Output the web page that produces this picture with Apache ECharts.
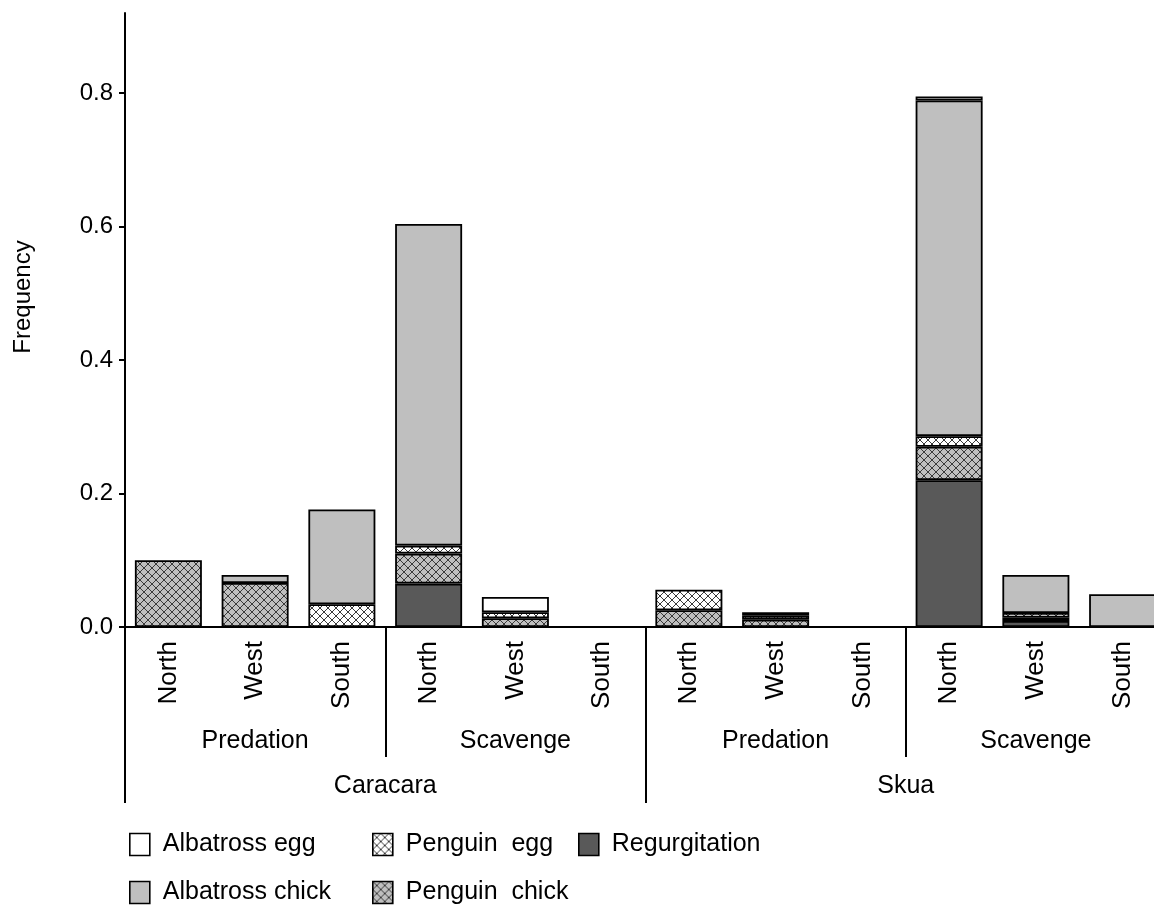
<!DOCTYPE html>
<html>
<head>
<meta charset="utf-8">
<style>
  html, body { margin: 0; padding: 0; background: #fff; }
  #chart { width: 1154px; height: 909px; }
</style>
<script src="https://cdn.jsdelivr.net/npm/echarts@6/dist/echarts.min.js"></script>
</head>
<body>
<div id="chart"></div>
<script>
// ---- data ----
const regions = ['North','West','South','North','West','South','North','West','South','North','West','South'];
const behaviours = ['Predation','Scavenge','Predation','Scavenge'];
const species = ['Caracara','Skua'];
const yTicks = [0, 0.2, 0.4, 0.6, 0.8];

const regurgitation  = [0,     0,     0,     0.065, 0,     0, 0,     0,     0, 0.220, 0.009, 0];
const penguinChick   = [0.100, 0.066, 0,     0.045, 0.013, 0, 0.025, 0.011, 0, 0.050, 0.005, 0];
const penguinEgg     = [0,     0,     0.034, 0.012, 0.009, 0, 0.031, 0.006, 0, 0.016, 0.007, 0];
const albatrossChick = [0,     0.012, 0.142, 0.482, 0,     0, 0,     0.005, 0, 0.503, 0.057, 0.049];
const albatrossEgg   = [0,     0,     0,     0,     0.023, 0, 0,     0,     0, 0.006, 0,     0];

// ---- patterns ----
function hatch(bg) {
  const c = document.createElement('canvas');
  c.width = 8; c.height = 8;
  const g = c.getContext('2d');
  g.fillStyle = bg; g.fillRect(0, 0, 8, 8);
  g.strokeStyle = '#3a3a3a'; g.lineWidth = 1;
  g.beginPath();
  g.moveTo(-1, -1); g.lineTo(9, 9);
  g.moveTo(-1, 9); g.lineTo(9, -1);
  g.stroke();
  return { image: c, repeat: 'repeat' };
}

const FONT = 'Liberation Sans, Arial, sans-serif';
const chart = echarts.init(document.getElementById('chart'), null, { renderer: 'canvas' });

function mk(name, data, color) {
  return {
    name: name, type: 'bar', stack: 'all', xAxisIndex: 0,
    barWidth: 67,
    data: data.map(v => v === 0 ? '-' : v),
    itemStyle: { color: color, borderColor: '#000', borderWidth: 1.8 },
    emphasis: { disabled: true }
  };
}

const legendBase = {
  orient: 'vertical', itemWidth: 20, itemHeight: 22, itemGap: 23, padding: 0,
  textStyle: { fontFamily: FONT, fontSize: 25, color: '#000', padding: [0, 0, 0, 8] },
  itemStyle: { borderColor: '#000', borderWidth: 1.6 },
  selectedMode: false, icon: 'rect'
};

chart.setOption({
  animation: false,
  backgroundColor: '#fff',
  grid: { left: 125, top: 13, width: 1041, bottom: 282, containLabel: false, outerBoundsMode: 'none' },
  legend: [
    Object.assign({}, legendBase, { left: 129, top: 832, data: ['Albatross egg', 'Albatross chick'] }),
    Object.assign({}, legendBase, { left: 372, top: 832, data: ['Penguin  egg', 'Penguin  chick'] }),
    Object.assign({}, legendBase, { left: 578, top: 832, data: ['Regurgitation'] })
  ],
  xAxis: [
    {
      type: 'category', data: regions, position: 'bottom',
      axisLine: { show: true, lineStyle: { color: '#000', width: 2 } },
      axisTick: { show: false },
      axisLabel: { rotate: 90, margin: 14, interval: 0, fontFamily: FONT, fontSize: 26, color: '#000' }
    },
    {
      type: 'category', data: behaviours, position: 'bottom',
      axisLine: { show: false },
      axisTick: { show: true, interval: 0, length: 130, lineStyle: { color: '#000', width: 2 } },
      axisLabel: { margin: 102, interval: 0, fontFamily: FONT, fontSize: 25, color: '#000' }
    },
    {
      type: 'category', data: species, position: 'bottom',
      axisLine: { show: false },
      axisTick: { show: true, interval: 0, length: 176, lineStyle: { color: '#000', width: 2 } },
      axisLabel: { margin: 147, interval: 0, fontFamily: FONT, fontSize: 25, color: '#000' }
    }
  ],
  yAxis: {
    type: 'value', min: 0, max: 0.92, interval: 0.2,
    name: 'Frequency', nameLocation: 'middle', nameGap: 90,
    nameTextStyle: { fontFamily: FONT, fontSize: 24, color: '#000', padding: [0, 0, 0, 46] },
    axisLine: { show: true, lineStyle: { color: '#000', width: 2 } },
    axisTick: { show: true, length: 6, customValues: yTicks, lineStyle: { color: '#000', width: 2 } },
    axisLabel: {
      margin: 12, fontFamily: FONT, fontSize: 24, color: '#000',
      customValues: yTicks,
      formatter: v => v.toFixed(1)
    },
    splitLine: { show: false }
  },
  series: [
    mk('Regurgitation', regurgitation, '#595959'),
    mk('Penguin  chick', penguinChick, hatch('#bfbfbf')),
    mk('Penguin  egg', penguinEgg, hatch('#ffffff')),
    mk('Albatross chick', albatrossChick, '#bfbfbf'),
    mk('Albatross egg', albatrossEgg, '#ffffff')
  ]
});
</script>
</body>
</html>
